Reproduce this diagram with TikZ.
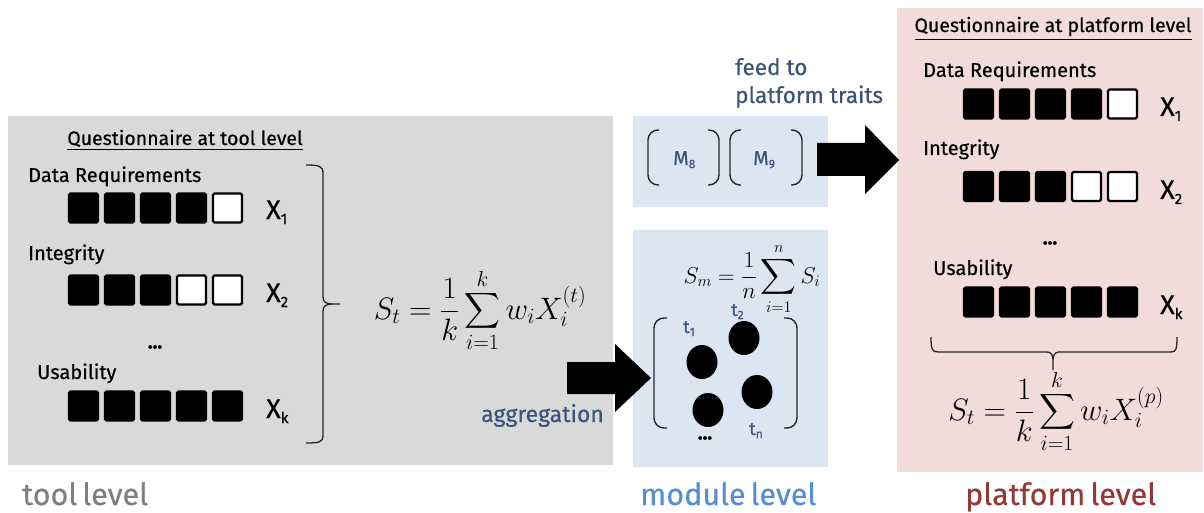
\RequirePackage{fix-cm}
\documentclass[tikz,border=0pt]{standalone}
\usepackage[no-math]{fontspec}
\setmainfont{Fira Sans}[FakeBold=0.4]
\usepackage{amsmath}
\usetikzlibrary{shapes.geometric}

\definecolor{toolbg}{HTML}{D9D9D9}
\definecolor{modbg}{HTML}{DCE6F2}
\definecolor{platbg}{HTML}{F2DCDB}
\definecolor{labelblue}{HTML}{3B5479}
\definecolor{modtitle}{HTML}{558ED5}
\definecolor{plattitle}{HTML}{953735}
\definecolor{tooltitle}{HTML}{7F7F7F}
\definecolor{bracketgray}{HTML}{262626}

\newcommand\fsz[1]{\fontsize{#1}{#1}\selectfont}
\newcommand\sbx[1]{\raisebox{-5pt}{\fsz{15}#1}}
\newcommand\sbm[1]{\raisebox{-3pt}{\fsz{12}#1}}

\begin{document}
\begin{tikzpicture}[x=1pt,y=-1pt,
  panel/.style={inner sep=0pt, outer sep=0pt, anchor=north west},
  sqfull/.style={fill=black, draw=black, line width=2.4pt, rounded corners=1.5pt,
                 minimum size=29pt, inner sep=0pt},
  sqempty/.style={sqfull, fill=white},
  heading/.style={inner sep=0pt, anchor=base, font=\fsz{19.5}},
  lbl/.style={inner sep=0pt, anchor=base west, font=\fsz{20}},
  xlab/.style={inner sep=0pt, anchor=base west, font=\fsz{27}},
  bluelbl/.style={inner sep=0pt, anchor=base west, font=\fsz{22.5}, text=labelblue},
  tlab/.style={inner sep=0pt, anchor=base west, font=\fsz{18}, text=labelblue},
  mlab/.style={inner sep=0pt, anchor=base west, font=\fsz{20}, text=labelblue},
  dots/.style={inner sep=0pt, font=\bfseries\fsz{20}},
  levelname/.style={inner sep=0pt, anchor=base west, font=\fsz{30.5}},
  bracket/.style={draw=bracketgray, line width=1.4pt, rounded corners=10pt},
  brace/.style={draw=bracketgray, line width=1.3pt},
  tool/.style={ellipse, fill=black, inner sep=0pt, minimum width=31pt, minimum height=34pt},
  blockarrow/.style={fill=black}
]
\useasboundingbox (0,0) rectangle (1204,513);

% panels
\node[panel, fill=toolbg, minimum width=605pt, minimum height=349pt] (toolpanel) at (8,116) {};
\node[panel, fill=modbg, minimum width=195pt, minimum height=91pt] (traitpanel) at (633,116) {};
\node[panel, fill=modbg, minimum width=195pt, minimum height=237pt] (modpanel) at (633,230) {};
\node[panel, fill=platbg, minimum width=306pt, minimum height=464pt] (platpanel) at (897,8) {};

% ---------------- tool level questionnaire ----------------
\node[heading] (toolhead) at (185,145) {\underline{Questionnaire at tool level}};
\node[lbl] (tdata) at (28,182) {Data Requirements};
\node[lbl] (tinteg) at (28,260) {Integrity};
\node[lbl] (tusab) at (37,379) {Usability};
\foreach \i/\s in {1/sqfull,2/sqfull,3/sqfull,4/sqfull,5/sqempty}
  \node[\s] (ta\i) at ({83.5+36*(\i-1)},208) {};
\foreach \i/\s in {1/sqfull,2/sqfull,3/sqfull,4/sqempty,5/sqempty}
  \node[\s] (tb\i) at ({83.5+36*(\i-1)},290) {};
\foreach \i/\s in {1/sqfull,2/sqfull,3/sqfull,4/sqfull,5/sqfull}
  \node[\s] (tc\i) at ({83.5+36*(\i-1)},406) {};
\node[xlab] (tx1) at (266,219) {X\sbx{1}};
\node[xlab] (tx2) at (266,302) {X\sbx{2}};
\node[xlab] (txk) at (266,418) {X\sbx{k}};
\node[dots] (tdots) at (155,347) {...};

% brace gathering the tool items
\draw[brace] (306,165) .. controls (319,165) and (323,166) .. (323,173) -- (323,297)
  .. controls (323,302) and (326,304) .. (333,304) -- (340,304)
  (333,304) .. controls (326,304) and (323,306) .. (323,311) -- (323,436)
  .. controls (323,442) and (319,443) .. (306,443);

\node[inner sep=0pt, anchor=base] (toolformula) at (480,319)
  {\fsz{31}$\displaystyle S_t=\frac{1}{k}\sum_{i=1}^{k} w_i X_i^{(t)}$};

% aggregation arrow
\fill[blockarrow] (567,362) -- (615,362) -- (615,344) -- (651,378) -- (615,412)
  -- (615,394) -- (567,394) -- cycle;
\node[bluelbl, font=\fsz{23}] (aggr) at (481,422) {aggregation};

% ---------------- module level ----------------
\node[bluelbl] (feed1) at (735,75) {feed to};
\node[bluelbl] (feed2) at (735,103) {platform traits};
\draw[bracket] (659,130) -- (648,130) -- (648,185) -- (659,185);
\draw[bracket] (708,130) -- (719,130) -- (719,185) -- (708,185);
\draw[bracket] (741,130) -- (730,130) -- (730,185) -- (741,185);
\draw[bracket] (791,130) -- (802,130) -- (802,185) -- (791,185);
\node[mlab] (m8) at (673,165) {M\sbm{8}};
\node[mlab] (m9) at (753,165) {M\sbm{9}};

\fill[blockarrow] (817,143) -- (865,143) -- (865,125) -- (899,160) -- (865,194)
  -- (865,176) -- (817,176) -- cycle;

\node[inner sep=0pt, anchor=base] (modformula) at (752,283)
  {\fsz{23}$\displaystyle S_m=\frac{1}{n}\sum_{i=1}^{n} S_i$};
\draw[bracket] (667,318) -- (654,318) -- (654,428) -- (667,428);
\draw[bracket] (784,318) -- (797,318) -- (797,428) -- (784,428);
\node[tool] (t1) at (702,362) {};
\node[tool] (t2) at (744,338) {};
\node[tool] (tn) at (757,392) {};
\node[tool] (t3) at (708,410) {};
\node[tlab] (t1lab) at (683,333) {t\sbm{1}};
\node[tlab] (t2lab) at (731,316) {t\sbm{2}};
\node[tlab] (tnlab) at (749,435) {t\sbm{n}};
\node[dots] (mdots) at (705,438) {...};

% ---------------- platform level questionnaire ----------------
\node[heading] (plathead) at (1053,32) {\underline{Questionnaire at platform level}};
\node[lbl] (pdata) at (923,77) {Data Requirements};
\node[lbl] (pinteg) at (923,155) {Integrity};
\node[lbl] (pusab) at (933,275) {Usability};
\foreach \i/\s in {1/sqfull,2/sqfull,3/sqfull,4/sqfull,5/sqempty}
  \node[\s] (pa\i) at ({978.5+36*(\i-1)},104) {};
\foreach \i/\s in {1/sqfull,2/sqfull,3/sqfull,4/sqempty,5/sqempty}
  \node[\s] (pb\i) at ({978.5+36*(\i-1)},186.5) {};
\foreach \i/\s in {1/sqfull,2/sqfull,3/sqfull,4/sqfull,5/sqfull}
  \node[\s] (pc\i) at ({978.5+36*(\i-1)},302) {};
\node[xlab] (px1) at (1160,116) {X\sbx{1}};
\node[xlab] (px2) at (1160,199) {X\sbx{2}};
\node[xlab] (pxk) at (1160,314) {X\sbx{k}};
\node[dots] (pdots) at (1050,243) {...};

% brace under the platform items
\draw[brace] (931,337) .. controls (931,349) and (932,352) .. (938,352) -- (1047,352)
  .. controls (1051,352) and (1053,355) .. (1053,360) -- (1053,370)
  (1053,360) .. controls (1053,355) and (1055,352) .. (1059,352) -- (1171,352)
  .. controls (1176,352) and (1177,349) .. (1177,337);

\node[inner sep=0pt, anchor=base] (platformula) at (1056,420)
  {\fsz{31}$\displaystyle S_t=\frac{1}{k}\sum_{i=1}^{k} w_i X_i^{(p)}$};

% ---------------- level names ----------------
\node[levelname, text=tooltitle] (toolname) at (22,505) {tool\hspace{-3pt} level};
\node[levelname, text=modtitle] (modname) at (640,505) {module\hspace{-3pt} level};
\node[levelname, text=plattitle] (platname) at (965,505) {platform\hspace{-3pt} level};
\end{tikzpicture}
\end{document}
